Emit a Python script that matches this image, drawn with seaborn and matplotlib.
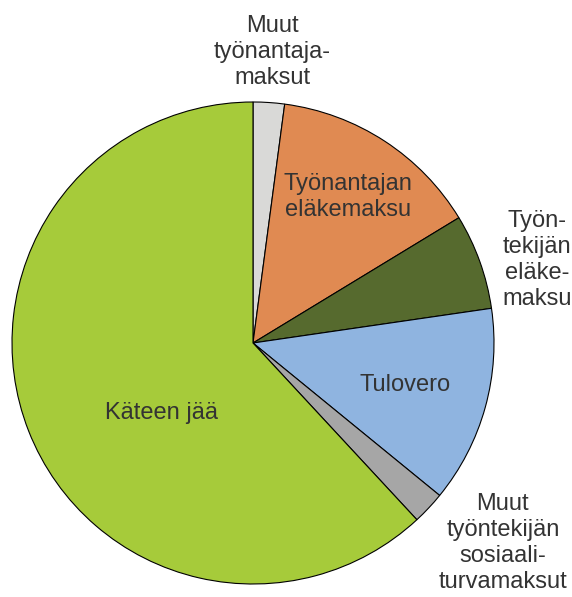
import matplotlib
matplotlib.use("Agg")
import matplotlib.pyplot as plt
import seaborn as sns

# slices, clockwise from 12 o'clock
labels = ["Muut\ntyönantaja-\nmaksut", "Työnantajan\neläkemaksu", "Työn-\ntekijän\neläke-\nmaksu",
          "Tulovero", "Muut\ntyöntekijän\nsosiaali-\nturvamaksut", "Käteen jää"]
shares = [2.1, 14.2, 6.4, 13.2, 2.2, 61.9]
colors = ["#d9d9d7", "#e08a52", "#566a2e", "#8fb4e0", "#a6a6a6", "#a6cb3a"]
label_pos = [(0.079, 1.207), (0.394, 0.606), (1.178, 0.344),
             (0.631, -0.174), (1.037, -0.830), (-0.378, -0.290)]

sns.set_theme(style="white")
plt.rcParams["font.family"] = ["Liberation Sans", "DejaVu Sans"]

fig = plt.figure(figsize=(5.72, 5.97), dpi=100)
ax = fig.add_axes([12 / 572, 13 / 597, 482 / 572, 482 / 597])
ax.pie(shares, colors=colors, startangle=90, counterclock=False,
       wedgeprops={"edgecolor": "black", "linewidth": 0.8})
for lab, (x, y) in zip(labels, label_pos):
    ax.text(x, y, lab, ha="center", va="center", fontsize=17,
            color="#333333", linespacing=1.22)
ax.set_xlim(-1, 1)
ax.set_ylim(-1, 1)
ax.set_aspect("equal")
ax.axis("off")

fig.savefig("out.png", dpi=100)
